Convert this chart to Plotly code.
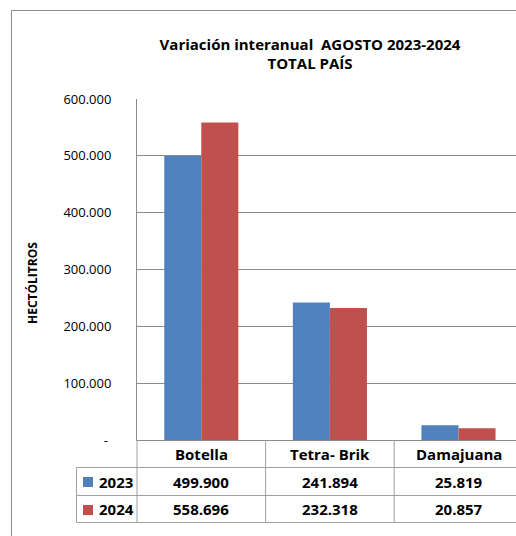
import plotly.graph_objects as go

# ---- data ----
categories = ["Botella", "Tetra- Brik", "Damajuana"]
years = ["2023", "2024"]
values_2023 = [499900, 241894, 25819]
values_2024 = [558696, 232318, 20857]
y_ticks = [0, 100000, 200000, 300000, 400000, 500000, 600000]

series = [values_2023, values_2024]
colors = ["#4F81BD", "#C0504D"]

# ---- geometry (pixels) ----
W, H = 516, 536
L, T, R, B = 137, 99, 516, 440
CAT_W = 128.6
x_range = [-0.5, -0.5 + (R - L) / CAT_W]


def px_x(px):
    return (px - L) / (R - L)


def px_y(py):
    return (B - py) / (B - T)


def dx(x):
    return (x - x_range[0]) / (x_range[1] - x_range[0])


def fmt(v):
    return f"{v:,}".replace(",", ".")


FONT = "Open Sans"
GRID = "#8c8c8c"
TABLE = "#a0a0a0"

fig = go.Figure()
for name, vals, col in zip(years, series, colors):
    fig.add_trace(go.Bar(x=categories, y=vals, name=name, marker_color=col,
                         marker_line_width=0, showlegend=False))

ticktext = ["-\u00a0" if v == 0 else fmt(v) for v in y_ticks]

annotations = [
    dict(text="<b>HECTÓLITROS</b>", x=px_x(32), y=px_y(283), xref="paper", yref="paper",
         textangle=-90, showarrow=False, font=dict(family=FONT, size=12, color="black"),
         xanchor="center", yanchor="middle"),
]
header_y = px_y(454)
row_y = [px_y(481.7), px_y(509)]
for i, c in enumerate(categories):
    annotations.append(dict(text=f"<b>{c}</b>", x=dx(i), y=header_y, xref="paper", yref="paper",
                            showarrow=False, font=dict(family=FONT, size=15, color="black"),
                            xanchor="center", yanchor="middle"))
for r, (name, vals) in enumerate(zip(years, series)):
    annotations.append(dict(text=f"<b>{name}</b>", x=px_x(96.5), y=row_y[r], xref="paper", yref="paper",
                            showarrow=False, font=dict(family=FONT, size=15, color="black"),
                            xanchor="left", yanchor="middle"))
    for i, v in enumerate(vals):
        annotations.append(dict(text=f"<b>{fmt(v)}</b>", x=dx(i), y=row_y[r], xref="paper", yref="paper",
                                showarrow=False, font=dict(family=FONT, size=15, color="black"),
                                xanchor="center", yanchor="middle"))

shapes = [
    dict(type="rect", xref="paper", yref="paper", x0=px_x(11.5), x1=px_x(540), y0=px_y(560), y1=px_y(10.5),
         line=dict(color=GRID, width=1), layer="below"),
]
table_left = px_x(76.5)
for py in [467.5, 495.5, 522.5]:
    shapes.append(dict(type="line", xref="paper", yref="paper", x0=table_left, x1=px_x(530),
                       y0=px_y(py), y1=px_y(py), line=dict(color=TABLE, width=1)))
for xv in [-0.5, 0.5, 1.5]:
    shapes.append(dict(type="line", xref="paper", yref="paper", x0=dx(xv), x1=dx(xv),
                       y0=0, y1=px_y(522.5), line=dict(color=TABLE, width=1)))
shapes.append(dict(type="line", xref="paper", yref="paper", x0=table_left, x1=table_left,
                   y0=px_y(467.5), y1=px_y(522.5), line=dict(color=TABLE, width=1)))
for r, col in enumerate(colors):
    cy = [482, 510][r]
    shapes.append(dict(type="rect", xref="paper", yref="paper", x0=px_x(83), x1=px_x(93),
                       y0=px_y(cy + 5), y1=px_y(cy - 5), fillcolor=col, line=dict(width=0)))

fig.update_layout(
    width=W, height=H,
    margin=dict(l=L, r=W - R, t=T, b=H - B, pad=0),
    paper_bgcolor="white", plot_bgcolor="white",
    barmode="group", bargap=0.424, bargroupgap=0,
    title=dict(text="<b>Variación interanual\u00a0 AGOSTO 2023-2024<br>TOTAL PAÍS</b>",
               x=310 / W, xref="container", xanchor="center",
               y=1 - 49.5 / H, yref="container", yanchor="middle",
               font=dict(family=FONT, size=15, color="black")),
    xaxis=dict(type="category", range=x_range, showticklabels=False, showgrid=False,
               showline=True, linecolor=GRID, linewidth=1, ticks="", zeroline=False),
    yaxis=dict(range=[0, 600000], tickvals=y_ticks, ticktext=ticktext, showgrid=True,
               gridcolor=GRID, gridwidth=1, showline=True, linecolor=GRID, linewidth=1,
               ticks="", zeroline=False, ticklabelstandoff=22,
               tickfont=dict(family=FONT, size=13, color="black")),
    annotations=annotations,
    shapes=shapes,
    font=dict(family=FONT, color="black"),
)

fig.write_html("out.html", config={"displayModeBar": False},
               post_script="document.body.style.margin='0px';document.body.style.overflow='hidden';")
